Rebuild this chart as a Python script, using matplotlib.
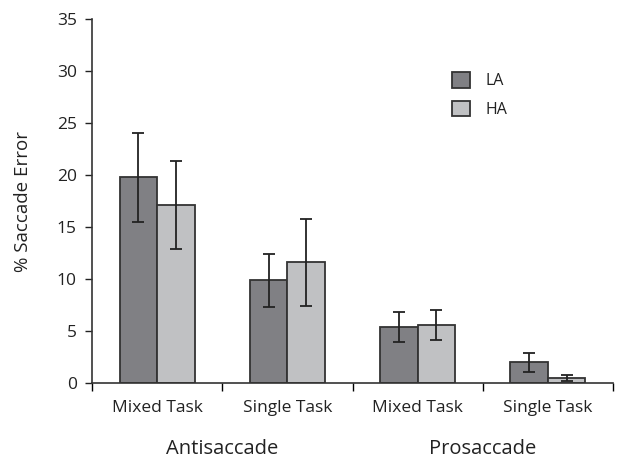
import matplotlib
matplotlib.use("Agg")
import matplotlib.pyplot as plt
import numpy as np

plt.rcParams['font.family'] = ['Open Sans', 'DejaVu Sans']

categories = ["Mixed Task", "Single Task", "Mixed Task", "Single Task"]
groups = ["Antisaccade", "Prosaccade"]
series = ["LA", "HA"]
la_vals = [19.8, 9.9, 5.4, 2.0]
ha_vals = [17.15, 11.65, 5.6, 0.45]
la_err_lo = [4.35, 2.6, 1.5, 0.95]
la_err_hi = [4.25, 2.55, 1.45, 0.9]
ha_err_lo = [4.25, 4.25, 1.45, 0.28]
ha_err_hi = [4.15, 4.15, 1.45, 0.35]
yticks = [0, 5, 10, 15, 20, 25, 30, 35]

W, H = 617, 459
fig = plt.figure(figsize=(W/100, H/100), dpi=100)
ax = fig.add_axes([92/W, 1-383/H, (613-92)/W, (383-19)/H])

x = np.arange(len(categories))
bw = 0.287
ax.bar(x - bw/2, la_vals, bw, color='#808084', edgecolor='#333333', linewidth=1.3, label=series[0],
       yerr=[la_err_lo, la_err_hi], error_kw=dict(ecolor='#222222', elinewidth=1.3, capsize=4, capthick=1.3))
ax.bar(x + bw/2, ha_vals, bw, color='#c0c1c3', edgecolor='#333333', linewidth=1.3, label=series[1],
       yerr=[ha_err_lo, ha_err_hi], error_kw=dict(ecolor='#222222', elinewidth=1.3, capsize=4, capthick=1.3))

ax.set_xlim(-0.5, len(categories) - 0.5)
ax.set_ylim(0, 35)
ax.set_yticks(yticks)
ax.tick_params(axis='y', labelsize=12.5, length=5, width=1, pad=6, colors='#222222')
ax.set_xticks(np.arange(len(categories) + 1) - 0.5)
ax.set_xticklabels([])
ax.tick_params(axis='x', which='major', length=6, width=1, direction='out')
ax.set_xticks(x, minor=True)
ax.set_xticklabels(categories, minor=True)
ax.tick_params(axis='x', which='minor', length=0, labelsize=12.5, pad=12, colors='#222222')

for s in ['top', 'right']:
    ax.spines[s].set_visible(False)
for s in ['left', 'bottom']:
    ax.spines[s].set_color('#333333')
    ax.spines[s].set_linewidth(1.2)

ax.set_ylabel("% Saccade Error", fontsize=13.5, labelpad=18, color='#222222')

for i, g in enumerate(groups):
    gx = 2*i + 0.5
    ax.annotate(g, xy=(gx, 0), xycoords=('data', 'axes fraction'), xytext=(0, -40),
                textcoords='offset points', ha='center', va='top', fontsize=14.5, color='#222222')

leg = ax.legend(loc='upper left', bbox_to_anchor=(438/W, 1-58/H), bbox_transform=fig.transFigure,
                frameon=False, fontsize=11.5, handlelength=1.1, handleheight=1.1, labelspacing=0.7,
                handletextpad=1.0)
for t in leg.get_texts():
    t.set_color('#222222')

fig.savefig("out.png", dpi=100)
